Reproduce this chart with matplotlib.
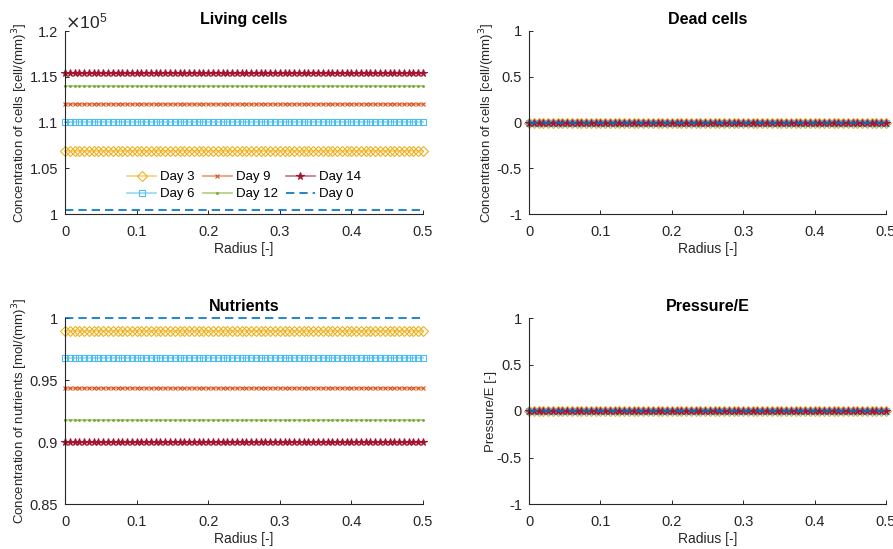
import numpy as np
import matplotlib
matplotlib.use("Agg")
import matplotlib.pyplot as plt
from matplotlib.colors import to_rgba
from matplotlib.ticker import FormatStrFormatter

plt.rcParams['font.family'] = ['Liberation Sans', 'DejaVu Sans']

# radial grid (nodes of the 1D mesh)
radius = np.linspace(0, 0.5, 76)

days = ["Day 3", "Day 6", "Day 9", "Day 12", "Day 14", "Day 0"]
colors = ["#EDB120", "#4DBEEE", "#D95319", "#77AC30", "#A2142F", "#0072BD"]
markers = ["D", "s", "x", ".", "*", None]

# profiles are flat along the radius: one level per day
living = [1.069e5, 1.1005e5, 1.120e5, 1.140e5, 1.1545e5, 1.0047e5]
dead = [0.0, 0.0, 0.0, 0.0, 0.0, 0.0]
nutrients = [0.9895, 0.968, 0.9437, 0.918, 0.9003, 1.0]
pressure = [0.0, 0.0, 0.0, 0.0, 0.0, 0.0]

W, H = 893, 549
fig = plt.figure(figsize=(W / 100, H / 100), dpi=100)


def make_ax(x0, y_top, x1, y_bot):
    return fig.add_axes([x0 / W, 1 - y_bot / H, (x1 - x0) / W, (y_bot - y_top) / H])


ax_live = make_ax(65, 31, 423, 214)
ax_dead = make_ax(529, 31, 886, 214)
ax_nut = make_ax(65, 318, 423, 504)
ax_pres = make_ax(529, 318, 886, 504)

msizes = {"D": 4.8, "s": 4.5, "x": 3.5, ".": 2.5, "*": 5.5}
mfill = {"D": "none", "s": "none", "x": None, ".": None, "*": None}


def draw(ax, levels, scale=1.0):
    for name, lev, c, m in zip(days, levels, colors, markers):
        y = np.full_like(radius, lev / scale)
        if m is None:
            ax.plot(radius, y, color=c, linestyle="--", linewidth=1.2,
                    dashes=(5, 3), label=name)
        else:
            ax.plot(radius, y, color=to_rgba(c, 0.55), linewidth=1.3,
                    marker=m, markersize=msizes[m],
                    markerfacecolor=mfill[m] or c,
                    markeredgecolor=c, markeredgewidth=0.8, label=name)


def style(ax, title, ylabel, ylim, yticks):
    ax.set_xlim(0, 0.5)
    ax.set_ylim(*ylim)
    ax.set_xticks([0, 0.1, 0.2, 0.3, 0.4, 0.5])
    ax.set_yticks(yticks)
    ax.xaxis.set_major_formatter(FormatStrFormatter('%g'))
    ax.yaxis.set_major_formatter(FormatStrFormatter('%g'))
    for s in ["top", "right"]:
        ax.spines[s].set_visible(False)
    for s in ["left", "bottom"]:
        ax.spines[s].set_color("#262626")
        ax.spines[s].set_linewidth(0.8)
    ax.tick_params(direction="in", length=3, width=0.7, colors="#262626",
                   labelsize=10.5)
    ax.tick_params(axis="x", pad=8)
    ax.tick_params(axis="y", pad=5)
    ax.set_title(title, fontsize=11.5, fontweight="bold", pad=5)
    ax.set_xlabel("Radius [-]", fontsize=10, color="#262626", labelpad=2)
    ax.set_ylabel(ylabel, fontsize=9.5, color="#262626", labelpad=0)


draw(ax_live, living, scale=1e5)
style(ax_live, "Living cells", r"Concentration of cells [cell/(mm)$^3$]",
      (1.0, 1.2), [1.0, 1.05, 1.1, 1.15, 1.2])
ax_live.text(0.0, 1.0, r"$\times\mathregular{10^5}$", transform=ax_live.transAxes,
             fontsize=12.5, color="#262626", ha="left", va="bottom")
ax_live.legend(ncol=3, frameon=False, fontsize=9.5, loc="lower center",
               bbox_to_anchor=(0.5, 0.01), columnspacing=0.6, handlelength=2.2,
               handletextpad=0.3, labelspacing=0.35)

draw(ax_dead, dead)
style(ax_dead, "Dead cells", r"Concentration of cells [cell/(mm)$^3$]",
      (-1, 1), [-1, -0.5, 0, 0.5, 1])

draw(ax_nut, nutrients)
style(ax_nut, "Nutrients", r"Concentration of nutrients [mol/(mm)$^3$]",
      (0.85, 1.0), [0.85, 0.9, 0.95, 1.0])

draw(ax_pres, pressure)
style(ax_pres, "Pressure/E", "Pressure/E [-]",
      (-1, 1), [-1, -0.5, 0, 0.5, 1])

for ax in (ax_live, ax_dead, ax_nut, ax_pres):
    for ln in ax.lines:
        ln.set_clip_on(False)

fig.savefig("out.png", dpi=100)
